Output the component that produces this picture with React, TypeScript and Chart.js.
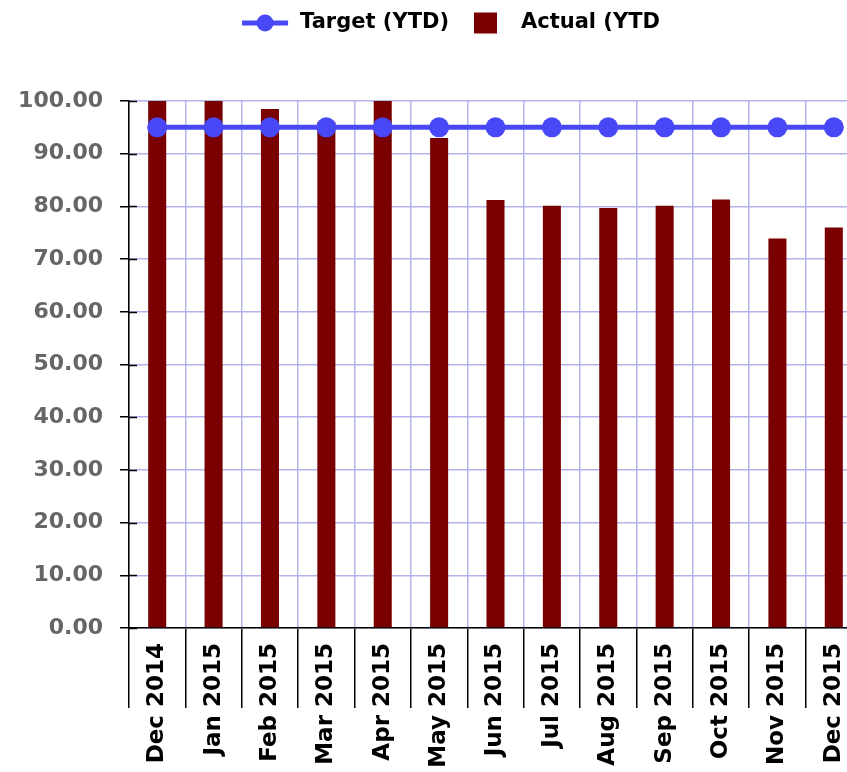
import React, { useEffect, useRef } from "react";
import { Chart, registerables } from "chart.js";

Chart.register(...registerables);

const categories = [
  "Dec 2014", "Jan 2015", "Feb 2015", "Mar 2015", "Apr 2015", "May 2015", "Jun 2015",
  "Jul 2015", "Aug 2015", "Sep 2015", "Oct 2015", "Nov 2015", "Dec 2015",
];
const targetYTD = [95, 95, 95, 95, 95, 95, 95, 95, 95, 95, 95, 95, 95];
const actualYTD = [100, 100, 98.5, 96, 100, 93, 81.2, 80.1, 79.7, 80.1, 81.3, 73.9, 76.0];
const seriesNames = ["Target (YTD)", "Actual (YTD"];

const BLUE = "#4848f6";
const RED = "#7a0000";
const GRID = "#b4b4ec";
const FONT = "'DejaVu Sans', sans-serif";

const legendPlugin = {
  id: "customLegend",
  afterDraw(chart: any) {
    const ctx = chart.ctx;
    ctx.save();
    ctx.font = `bold 21px ${FONT}`;
    const t1 = ctx.measureText(seriesNames[0]).width;
    const t2 = ctx.measureText(seriesNames[1]).width;
    const lineW = 46, g1 = 12, g2 = 25, boxW = 23, boxH = 21, g3 = 24;
    const total = lineW + g1 + t1 + g2 + boxW + g3 + t2;
    let x = chart.width / 2 - total / 2;
    const cy = 23;
    ctx.strokeStyle = BLUE;
    ctx.lineWidth = 5;
    ctx.beginPath();
    ctx.moveTo(x, cy);
    ctx.lineTo(x + lineW, cy);
    ctx.stroke();
    ctx.fillStyle = BLUE;
    ctx.beginPath();
    ctx.arc(x + lineW / 2, cy, 8.5, 0, Math.PI * 2);
    ctx.fill();
    x += lineW + g1;
    ctx.fillStyle = "#000";
    ctx.textBaseline = "middle";
    ctx.textAlign = "left";
    ctx.fillText(seriesNames[0], x, cy);
    x += t1 + g2;
    ctx.fillStyle = RED;
    ctx.fillRect(x, cy - boxH / 2, boxW, boxH);
    x += boxW + g3;
    ctx.fillStyle = "#000";
    ctx.fillText(seriesNames[1], x, cy);
    ctx.restore();
  },
};

const innerTicksPlugin = {
  id: "innerTicks",
  afterDraw(chart: any) {
    const y = chart.scales.y;
    const ctx = chart.ctx;
    ctx.save();
    ctx.strokeStyle = "#000";
    ctx.lineWidth = 1.5;
    const left = chart.chartArea.left;
    y.ticks.forEach((t: any) => {
      const py = Math.round(y.getPixelForValue(t.value)) + 0.5;
      ctx.beginPath();
      ctx.moveTo(left, py);
      ctx.lineTo(left + 8, py);
      ctx.stroke();
    });
    ctx.restore();
  },
};

export default function App() {
  const ref = useRef<HTMLCanvasElement>(null);
  useEffect(() => {
    if (!ref.current) return;
    const chart = new Chart(ref.current, {
      data: {
        labels: categories,
        datasets: [
          {
            type: "line",
            label: seriesNames[0],
            data: targetYTD,
            borderColor: BLUE,
            backgroundColor: BLUE,
            borderWidth: 5,
            pointRadius: 10,
            pointBorderWidth: 0,
            pointBackgroundColor: BLUE,
            order: 0,
          },
          {
            type: "bar",
            label: seriesNames[1],
            data: actualYTD,
            backgroundColor: RED,
            borderWidth: 0,
            barPercentage: 0.32,
            categoryPercentage: 1,
            order: 1,
          },
        ],
      } as any,
      options: {
        responsive: false,
        animation: false,
        devicePixelRatio: 1,
        layout: { padding: { top: 101, left: 18, right: 40, bottom: 0 } },
        plugins: { legend: { display: false }, tooltip: { enabled: false } },
        scales: {
          x: {
            offset: true,
            grid: {
              offset: true,
              color: GRID,
              lineWidth: 1.5,
              tickLength: 80,
              tickColor: "#000",
              tickWidth: 1.5,
            },
            border: { color: "#000", width: 1.5 },
            ticks: {
              autoSkip: false,
              minRotation: 90,
              maxRotation: 90,
              padding: -65,
              color: "#000",
              font: { family: FONT, weight: "bold", size: 23 },
            },
            afterFit(scale: any) {
              scale.height = 144;
            },
          },
          y: {
            min: 0,
            max: 100,
            grid: {
              color: GRID,
              lineWidth: 1.5,
              tickLength: 9,
              tickColor: "#000",
              tickWidth: 1.5,
            },
            border: { color: "#000", width: 1.5 },
            ticks: {
              stepSize: 10,
              padding: 17,
              color: "#666",
              font: { family: FONT, weight: "bold", size: 22 },
              callback: (v: any) => Number(v).toFixed(2),
            },
            afterFit(scale: any) {
              scale.width = 111;
            },
          },
        },
      },
      plugins: [legendPlugin, innerTicksPlugin],
    });
    return () => chart.destroy();
  }, []);
  return (
    <div style={{ position: "absolute", left: 0, top: 0, width: 847, height: 772, overflow: "hidden", background: "#fff" }}>
      <canvas ref={ref} width={902} height={772} style={{ width: 902, height: 772, display: "block" }} />
    </div>
  );
}
